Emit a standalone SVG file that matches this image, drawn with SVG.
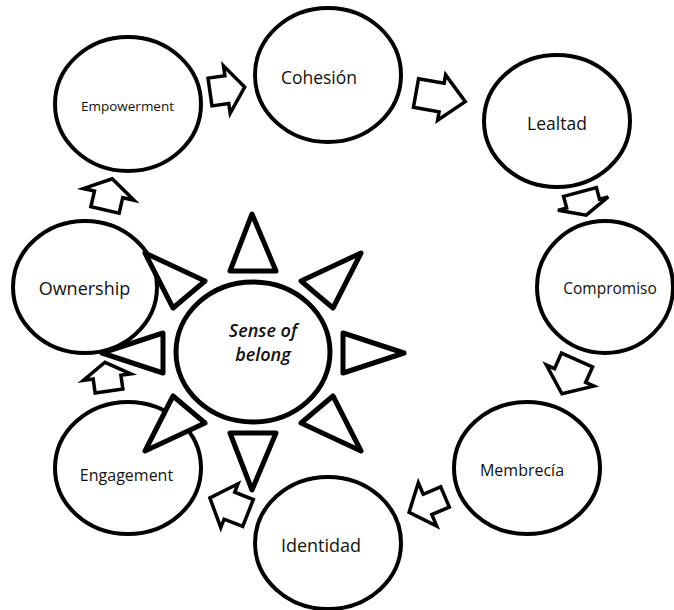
<svg xmlns="http://www.w3.org/2000/svg" width="674" height="610" viewBox="0 0 674 610">
  <style>
    .node ellipse { fill: #fff; stroke: #000; stroke-width: 4; }
    .lbl { font-family: "Open Sans", "Liberation Sans", sans-serif; fill: #111; text-anchor: middle; }
    .arrow { fill: #fff; stroke: #000; stroke-width: 3.5; stroke-linejoin: miter; }
    .ray { fill: #fff; stroke: #000; stroke-width: 5; stroke-linejoin: round; }
    .center-lbl { font-family: "Open Sans", "Liberation Sans", sans-serif; font-style: italic; font-weight: 600; font-size: 18px; fill: #111; text-anchor: middle; }
  </style>
  <rect width="674" height="610" fill="#fff"/>

  <g id="empowerment" class="node">
    <ellipse cx="128" cy="104" rx="73" ry="67"/>
    <text class="lbl" x="127.5" y="111" font-size="13.5">Empowerment</text>
  </g>
  <g id="cohesion" class="node">
    <ellipse cx="328" cy="75" rx="73" ry="67"/>
    <text class="lbl" x="319" y="84" font-size="17.5">Cohesión</text>
  </g>
  <g id="lealtad" class="node">
    <ellipse cx="557" cy="121" rx="73" ry="66"/>
    <text class="lbl" x="557" y="130" font-size="17.5">Lealtad</text>
  </g>
  <g id="compromiso" class="node">
    <ellipse cx="605" cy="287" rx="68" ry="66"/>
    <text class="lbl" x="610" y="294" font-size="15.5">Compromiso</text>
  </g>
  <g id="membrecia" class="node">
    <ellipse cx="527" cy="468" rx="73" ry="66"/>
    <text class="lbl" x="522" y="476" font-size="16">Membrecía</text>
  </g>
  <g id="identidad" class="node">
    <ellipse cx="328" cy="543" rx="73" ry="66"/>
    <text class="lbl" x="321" y="552" font-size="18">Identidad</text>
  </g>
  <g id="engagement" class="node">
    <ellipse cx="128" cy="468" rx="73" ry="66"/>
    <text class="lbl" x="126.5" y="481" font-size="16">Engagement</text>
  </g>
  <g id="ownership" class="node">
    <ellipse cx="85" cy="287" rx="72" ry="66"/>
    <text class="lbl" x="84.5" y="295" font-size="18">Ownership</text>
  </g>
  <g id="sense-of-belong" class="node">
    <ellipse cx="253" cy="352" rx="77" ry="70" style="stroke-width:5"/>
    <text class="center-lbl" x="263" y="337">Sense of</text>
    <text class="center-lbl" x="263" y="361">belong</text>
  </g>

  <g id="connectors">
    <polygon class="arrow" transform="translate(210,92) rotate(-8)" points="0,-14 17,-14 17,-24 35,0 17,24 17,14 0,14"/>
    <polygon class="arrow" transform="translate(416,93) rotate(10)" points="0,-14.5 26,-14.5 26,-23 50,0 26,23 26,14.5 0,14.5"/>
    <polygon class="arrow" transform="translate(580,192) rotate(75)" points="0,-17 12,-17 12,-26 24,0 12,26 12,17 0,17"/>
    <polygon class="arrow" transform="translate(577,360) rotate(114)" points="0,-17 17,-17 17,-26 37,0 17,26 17,17 0,17"/>
    <polygon class="arrow" transform="translate(445,497) rotate(157)" points="0,-11 19,-11 19,-23.5 39,0 19,23.5 19,11 0,11"/>
    <polygon class="arrow" transform="translate(248,513) rotate(201.5)" points="0,-14.5 20,-14.5 20,-23.5 41,0 20,23.5 20,14.5 0,14.5"/>
    <polygon class="arrow" transform="translate(109,391) rotate(-98)" points="0,-14 14,-14 14,-24 29,0 14,24 14,14 0,14"/>
    <polygon class="arrow" transform="translate(105,210) rotate(-77)" points="0,-14.5 16,-14.5 16,-26 32,0 16,26 16,14.5 0,14.5"/>
  </g>

  <g id="rays">
    <polygon class="ray" points="252,214 230,271 276,271"/>
    <polygon class="ray" points="145,253 205,281 173,308"/>
    <polygon class="ray" points="102,353 163,333 163,373"/>
    <polygon class="ray" points="145,451 205,423 173,396"/>
    <polygon class="ray" points="252,490 230,433 276,433"/>
    <polygon class="ray" points="361,451 301,423 333,396"/>
    <polygon class="ray" points="404,353 343,333 343,373"/>
    <polygon class="ray" points="361,253 301,281 333,308"/>
  </g>
</svg>
